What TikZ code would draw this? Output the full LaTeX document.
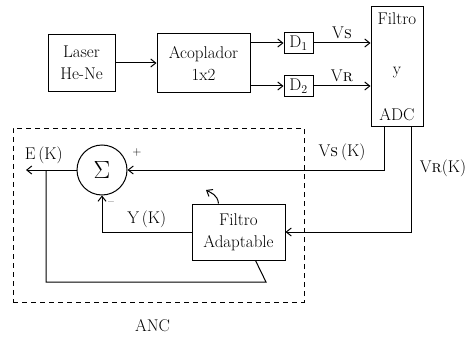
\documentclass[tikz,border=0pt]{standalone}
\usepackage{fontspec}
\usepackage{tikz}
\usetikzlibrary{arrows.meta,positioning,calc}

\begin{document}
\begin{tikzpicture}[
    x=1pt, y=-1pt,
    font=\fontsize{17}{22}\selectfont,
    >={Straight Barb[length=5pt,width=8pt]},
    line width=1pt,
    arrow/.style={->},
    block/.style={draw, align=center, inner sep=2pt},
    detector/.style={draw, minimum width=29pt, minimum height=21pt, inner sep=1pt},
    sumnode/.style={draw, circle, minimum size=50pt, inner sep=0pt,
                    font=\fontsize{30}{32}\selectfont},
    sign/.style={font=\fontsize{12}{12}\selectfont, inner sep=0pt},
    group/.style={draw, dashed, dash pattern=on 5pt off 4pt},
]
\useasboundingbox (0,0) rectangle (476,342);

%% ── Optical front end ────────────────────────────────────────
\node[block, minimum width=67pt, minimum height=57pt] (laser) at (81.5,63) {Laser\\He-Ne};
\node[block, minimum width=93pt, minimum height=59pt] (acop)  at (203.5,63) {Acoplador\\1x2};
\node[detector] (d1) at (298.5,43) {D$_1$};
\node[detector] (d2) at (298.5,86) {D$_2$};
\node[draw, minimum width=52pt, minimum height=119pt] (filt) at (397,66.5) {};
\node[anchor=base] (ftop) at (397,25)  {Filtro};
\node[anchor=base] (fy)   at (397,75)  {y};
\node[anchor=base] (fadc) at (397,121) {ADC};

\draw[arrow] (laser) -- (acop);
\draw[arrow] (acop.east |- d1) -- (d1);
\draw[arrow] (acop.east |- d2) -- (d2);
\draw[arrow] (d1) -- (d1 -| filt.west) node[midway, above] {V\textsc{s}};
\draw[arrow] (d2) -- (d2 -| filt.west) node[midway, above] {V\textsc{r}};

%% ── ANC ──────────────────────────────────────────────────────
\node[group, minimum width=291pt, minimum height=174pt] (anc) at (158.5,215) {};
\node (anclab) at ($(anc.south)+(-6,23)$) {ANC};

\node[sumnode] (sum) at (102,170) {$\Sigma$};
\node[block, minimum width=93pt, minimum height=56pt] (fad) at (238.5,232) {Filtro\\Adaptable};
\node[sign] (plus)  at (137,153) {+};
\node[sign] (minus) at (111,204) {--};

\coordinate (ek)   at (26,170);
\coordinate (fbtp) at (46,170);
\coordinate (fbr)  at (266,282);
\coordinate (adap) at (206,190);

\draw[arrow] ([xshift=-13pt]filt.south) |- (sum.east);
\draw[arrow] ([xshift=14pt]filt.south) |- (fad.east);
\node (vsk) at (342,152) {V\textsc{s}\,(K)};
\node (vrk) at (443,168) {V\textsc{r}(K)};
\draw[arrow] (sum.west) -- (ek) node[pos=0.65, above=2pt] {E\,(K)};
\draw[arrow] (fad.west) -| (sum.south) node[pos=0.25, above] {Y\,(K)};
\draw[arrow] ([xshift=-20pt]fad.north) .. controls +(-1,-9) and +(5,3) .. (adap);
\draw (fbtp) |- (fbr) -- ([xshift=17pt]fad.south);

\end{tikzpicture}
\end{document}
